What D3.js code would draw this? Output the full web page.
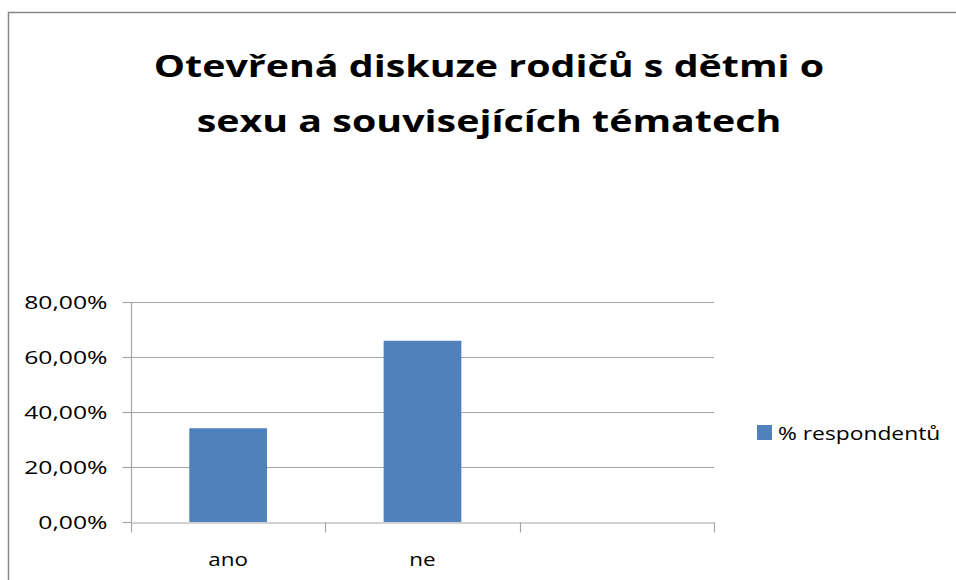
<!DOCTYPE html>
<html>
<head>
<meta charset="utf-8">
<script src="https://cdn.jsdelivr.net/npm/d3@7"></script>
<style>
  html, body { margin: 0; background: #fff; overflow: hidden; }
  svg { display: block; }
  svg text { font-family: "Open Sans", "Noto Sans", sans-serif; fill: #000; }
</style>
</head>
<body>
<div id="chart"></div>
<script>
// data
const categories = ["ano", "ne", ""];
const values = [0.341, 0.659, null];
const seriesName = "% respondentů";
const yTicks = [0, 0.2, 0.4, 0.6, 0.8];
const titleLines = ["Otevřená diskuze rodičů s dětmi o", "sexu a souvisejících tématech"];

const width = 956, height = 580;
const plot = { left: 131, right: 714, top: 302, bottom: 522 };
const barColor = "#4f81bd";
const gridColor = "#a6a6a6";

// the reference text is wider than Open Sans, stretch it horizontally
function stretch(sel, k) {
    sel.each(function () {
        const w = this.getComputedTextLength();
        d3.select(this).attr("textLength", w * k).attr("lengthAdjust", "spacingAndGlyphs");
    });
}

const svg = d3.select("#chart").append("svg")
    .attr("width", width)
    .attr("height", height);

svg.append("rect")
    .attr("width", width).attr("height", height)
    .attr("fill", "#fff");

// frame of the chart area, only top and left edges are in view
svg.append("path")
    .attr("d", `M${width},12.5H8.5V${height}`)
    .attr("fill", "none")
    .attr("stroke", "#888")
    .attr("stroke-width", 1.5);

// title
const title = svg.append("g");
titleLines.forEach((line, i) => {
    title.append("text")
        .attr("x", 489)
        .attr("y", 77 + i * 55)
        .attr("text-anchor", "middle")
        .style("font-size", "31px")
        .style("font-weight", "bold")
        .text(line);
});
stretch(title.selectAll("text"), 1.27);

const x = d3.scaleBand()
    .domain(categories)
    .range([plot.left, plot.right]);

const y = d3.scaleLinear()
    .domain([0, 0.8])
    .range([plot.bottom, plot.top]);

const fmt = v => d3.format(".2f")(v * 100).replace(".", ",") + "%";

// gridlines
svg.append("g")
    .selectAll("line")
    .data(yTicks.slice(1))
    .enter().append("line")
    .attr("x1", plot.left).attr("x2", plot.right)
    .attr("y1", d => Math.round(y(d)) + 0.5)
    .attr("y2", d => Math.round(y(d)) + 0.5)
    .attr("stroke", gridColor)
    .attr("stroke-width", 1.2);

// bars
const barW = x.step() * 0.4;
svg.append("g")
    .selectAll("rect")
    .data(categories.map((c, i) => ({ c, v: values[i] })).filter(d => d.v != null))
    .enter().append("rect")
    .attr("x", d => x(d.c) + (x.step() - barW) / 2)
    .attr("y", d => y(d.v))
    .attr("width", barW)
    .attr("height", d => y(0) - y(d.v))
    .attr("fill", barColor);

// y axis
const yAxis = svg.append("g")
    .attr("transform", `translate(${plot.left + 0.5},0)`)
    .call(d3.axisLeft(y).tickValues(yTicks).tickFormat(fmt).tickSize(9).tickPadding(15));
yAxis.selectAll("text").style("font-size", "19px");
stretch(yAxis.selectAll("text"), 1.3);

// x axis
const xAxis = svg.append("g")
    .attr("transform", `translate(0,${Math.round(y(0)) + 0.5})`)
    .call(d3.axisBottom(x).tickSize(0).tickPadding(30));
xAxis.selectAll("text").style("font-size", "19px");
stretch(xAxis.selectAll("text"), 1.18);
// category boundary ticks
xAxis.selectAll(".bound")
    .data(categories.map(c => x(c)).concat([plot.right]))
    .enter().append("line")
    .attr("class", "bound")
    .attr("x1", d => Math.round(d) + 0.5).attr("x2", d => Math.round(d) + 0.5)
    .attr("y1", 0).attr("y2", 10);

svg.selectAll(".domain, .tick line, .bound")
    .attr("stroke", gridColor)
    .attr("stroke-width", 1.2);
yAxis.select(".domain").attr("d", `M0,${y(0.8)}V${y(0)}`);

// legend
const legend = svg.append("g").attr("transform", "translate(757,425)");
legend.append("rect")
    .attr("width", 15).attr("height", 15)
    .attr("fill", barColor);
legend.append("text")
    .attr("x", 21).attr("y", 8)
    .attr("dy", "0.35em")
    .style("font-size", "19px")
    .text(seriesName);
stretch(legend.selectAll("text"), 1.2);
</script>
</body>
</html>
